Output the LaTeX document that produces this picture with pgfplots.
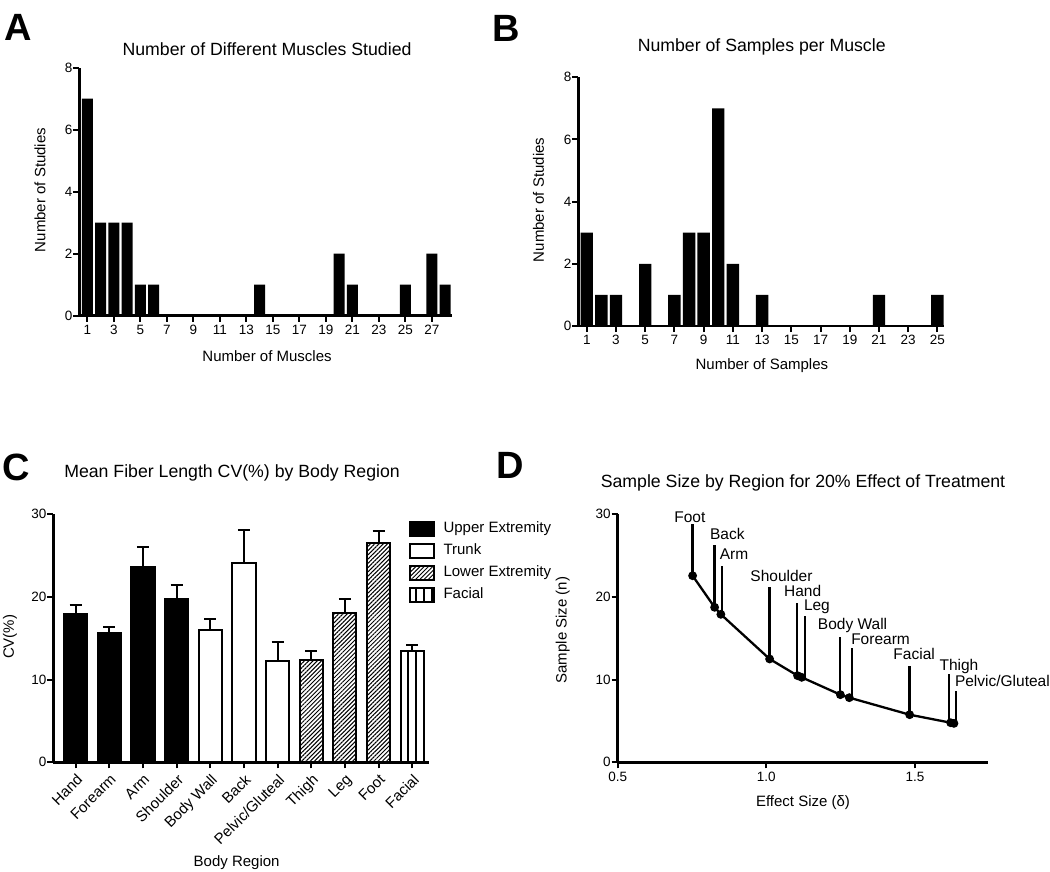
\documentclass[border=0pt]{standalone}
\usepackage{fontspec}
\setmainfont{Liberation Sans}
\usepackage{pgfplots}
\pgfplotsset{compat=1.18}
\usetikzlibrary{patterns.meta}

\pgfplotsset{
  prism/.style={
    scale only axis, enlargelimits=false,
    axis x line*=bottom, axis y line*=left,
    axis line style={-, line width=2.5pt, black},
    tick align=outside, major tick length=6pt,
    major tick style={line width=2pt, black},
    minor tick num=0,
    every axis title shift=0pt,
    tick label style={font=\fontsize{13.5}{16}\selectfont},
    yticklabel style={inner sep=0.8pt},
    label style={font=\fontsize{15}{18}\selectfont},
    title style={font=\fontsize{17.7}{21}\selectfont, anchor=center},
    xlabel style={anchor=center},
    ylabel style={anchor=center},
    /pgf/number format/assume math mode=true,
  }
}

\begin{document}
\begin{tikzpicture}
\useasboundingbox (0pt,0pt) rectangle (1050pt,-872pt);

% ---------- Panel A ----------
\begin{axis}[prism, at={(79.4pt,-315.5pt)}, anchor=south west,
  width=372.3pt, height=247.8pt,
  xmin=0.4, xmax=28.5, ymin=0, ymax=8,
  xtick={1,3,...,27}, ytick={0,2,...,8},
  title={Number of Different Muscles Studied},
  title style={at={(axis description cs:0.504,1.0755)}},
  xlabel={Number of Muscles},
  xlabel style={at={(axis description cs:0.504,-0.1634)}},
  ylabel={Number of Studies},
  ylabel style={at={(axis description cs:-0.1058,0.5065)}},
  ybar, bar width=0.84, bar shift=0pt]
\addplot[fill=black, draw=none] coordinates {
 (1,7) (2,3) (3,3) (4,3) (5,1) (6,1) (14,1) (20,2) (21,1) (25,1) (27,2) (28,1)};
\end{axis}

% ---------- Panel B ----------
\begin{axis}[prism, at={(578.3pt,-326pt)}, anchor=south west,
  width=365.7pt, height=248.7pt,
  xmin=0.42, xmax=25.45, ymin=0, ymax=8,
  xtick={1,3,...,25}, ytick={0,2,...,8},
  title={Number of Samples per Muscle},
  title style={at={(axis description cs:0.5015,1.123)}},
  xlabel={Number of Samples},
  xlabel style={at={(axis description cs:0.502,-0.161)}},
  ylabel={Number of Studies},
  ylabel style={at={(axis description cs:-0.109,0.507)}},
  ybar, bar width=0.85, bar shift=0pt]
\addplot[fill=black, draw=none] coordinates {
 (1,3) (2,1) (3,1) (5,2) (7,1) (8,3) (9,3) (10,7) (11,2) (13,1) (21,1) (25,1)};
\end{axis}

% ---------- Panel C ----------
\begin{axis}[prism, at={(53.3pt,-762.3pt)}, anchor=south west,
  width=375.7pt, height=248pt,
  xmin=-0.665, xmax=10.5, ymin=0, ymax=30,
  xtick={0,...,10}, ytick={0,10,20,30},
  xticklabels={Hand,Forearm,Arm,Shoulder,Body Wall,Back,Pelvic/Gluteal,Thigh,Leg,Foot,Facial},
  xticklabel style={rotate=45, anchor=north east, font=\fontsize{15}{18}\selectfont},
  title={Mean Fiber Length CV(\%) by Body Region},
  title style={at={(axis description cs:0.4757,1.165)}},
  xlabel={Body Region},
  xlabel style={at={(axis description cs:0.488,-0.406)}},
  ylabel={CV(\%)},
  ylabel style={at={(axis description cs:-0.1153,0.506)}},
  ybar, bar width=0.69, bar shift=0pt,
  legend image code/.code={\draw[#1, line width=2pt] (0pt,-7pt) rectangle (24pt,7pt);},
  legend cell align=left,
  legend style={draw=none, fill=none, at={(0.945,0.977)}, anchor=north west,
    inner sep=0pt, row sep=4.1pt, column sep=7pt,
    nodes={inner sep=2pt, text height=10.7pt, text depth=3.2pt, font=\fontsize{15}{18}\selectfont}},
  error bars/y dir=plus, error bars/y explicit,
  error bars/error bar style={line width=2pt, black},
  error bars/error mark options={rotate=90, mark size=6pt, line width=2pt, black},
  ]
\addplot[fill=black, draw=black, line width=2pt] coordinates {
 (0,18.0) +- (0,1.0) (1,15.65) +- (0,0.75) (2,23.6) +- (0,2.4) (3,19.75) +- (0,1.65)};
\addlegendentry{Upper Extremity}
\addplot[fill=white, draw=black, line width=2pt] coordinates {
 (4,16.0) +- (0,1.3) (5,24.15) +- (0,3.9) (6,12.3) +- (0,2.3)};
\addlegendentry{Trunk}
\addplot[pattern={Lines[angle=45,distance=3pt,line width=1pt]}, draw=black, line width=2pt] coordinates {
 (7,12.4) +- (0,1.1) (8,18.1) +- (0,1.6) (9,26.5) +- (0,1.45)};
\addlegendentry{Lower Extremity}
\addplot[pattern={Lines[angle=90,distance=8pt,line width=2pt]}, draw=black, line width=2pt] coordinates {
 (10,13.45) +- (0,0.8)};
\addlegendentry{Facial}
\end{axis}

% ---------- Panel D ----------
\begin{axis}[prism, at={(617.7pt,-762.3pt)}, anchor=south west,
  width=370.6pt, height=248pt, clip=false,
  xmin=0.5, xmax=1.7466, ymin=0, ymax=30,
  xtick={0.5,1,1.5}, xticklabels={0.5,1.0,1.5}, ytick={0,10,20,30},
  title={Sample Size by Region for 20\% Effect of Treatment},
  title style={at={(axis description cs:0.5,1.125)}},
  xlabel={Effect Size (δ)},
  xlabel style={at={(axis description cs:0.5,-0.164)}},
  ylabel={Sample Size (n)},
  ylabel style={at={(axis description cs:-0.1484,0.533)}},
  ]
\addplot[black, line width=2.3pt, mark=*, mark size=3.2pt] coordinates {
 (0.752,22.57) (0.826,18.75) (0.847,17.9) (1.011,12.5) (1.105,10.48) (1.119,10.28)
 (1.249,8.18) (1.279,7.82) (1.482,5.76) (1.620,4.79) (1.631,4.71)};
% label pins
\addplot[black, line width=2.3pt, mark=none] coordinates {(0.752,22.6) (0.752,28.8)};
\addplot[black, line width=2.3pt, mark=none] coordinates {(0.8255,18.8) (0.8255,26.3)};
\addplot[black, line width=2.3pt, mark=none] coordinates {(0.850,17.9) (0.850,23.8)};
\addplot[black, line width=2.3pt, mark=none] coordinates {(1.011,12.5) (1.011,21.2)};
\addplot[black, line width=2.3pt, mark=none] coordinates {(1.102,10.5) (1.102,19.3)};
\addplot[black, line width=2.3pt, mark=none] coordinates {(1.129,10.2) (1.129,17.7)};
\addplot[black, line width=2.3pt, mark=none] coordinates {(1.247,8.2) (1.247,15.2)};
\addplot[black, line width=2.3pt, mark=none] coordinates {(1.289,7.7) (1.289,13.87)};
\addplot[black, line width=2.3pt, mark=none] coordinates {(1.482,5.8) (1.482,11.7)};
\addplot[black, line width=2.3pt, mark=none] coordinates {(1.615,4.8) (1.615,10.65)};
\addplot[black, line width=2.3pt, mark=none] coordinates {(1.637,4.7) (1.637,8.67)};
\begin{scope}[every node/.style={anchor=base west, inner sep=0pt, font=\fontsize{15.5}{18}\selectfont}]
\node at (axis cs:0.690,29.03) {Foot};
\node at (axis cs:0.810,27.0) {Back};
\node at (axis cs:0.843,24.5) {Arm};
\node at (axis cs:0.946,21.85) {Shoulder};
\node at (axis cs:1.059,20.0) {Hand};
\node at (axis cs:1.126,18.4) {Leg};
\node at (axis cs:1.173,16.1) {Body Wall};
\node at (axis cs:1.285,14.3) {Forearm};
\node at (axis cs:1.427,12.4) {Facial};
\node at (axis cs:1.582,11.1) {Thigh};
\node at (axis cs:1.634,9.15) {Pelvic/Gluteal};
\end{scope}
\end{axis}

% ---------- Panel letters ----------
\begin{scope}[every node/.style={font=\bfseries\fontsize{38}{42}\selectfont, inner sep=0pt}]
\node at (18pt,-27pt) {A};
\node at (506pt,-28pt) {B};
\node at (16pt,-467pt) {C};
\node at (510pt,-465pt) {D};
\end{scope}
\end{tikzpicture}
\end{document}
